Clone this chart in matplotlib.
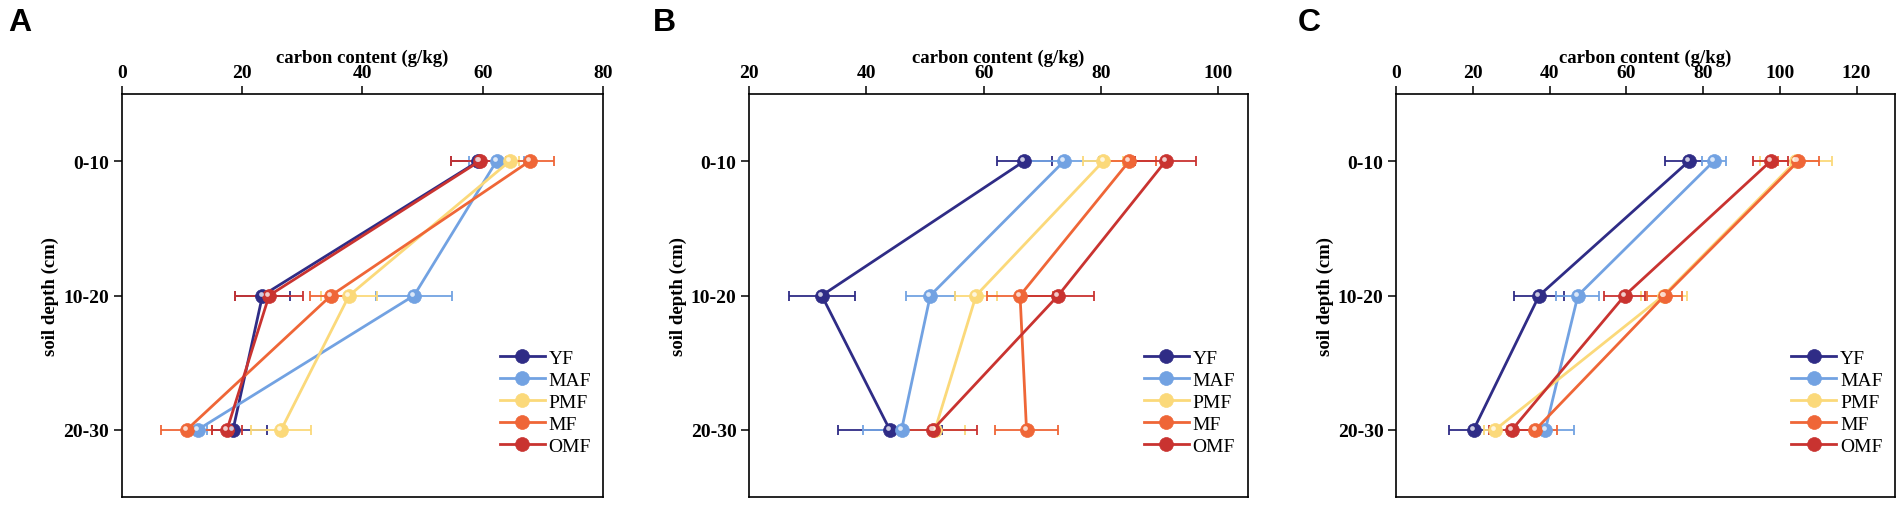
import matplotlib
matplotlib.use("Agg")
import matplotlib.pyplot as plt
from matplotlib.transforms import ScaledTranslation
import numpy as np

depths = ['0-10', '10-20', '20-30']
series = ['YF', 'MAF', 'PMF', 'MF', 'OMF']
colors = ['#2f2c86', '#72a2e2', '#fbd97a', '#ef6637', '#c93330']

# Panel A
A_YF = [59.3, 23.4, 18.5]
A_MAF = [62.3, 48.6, 12.6]
A_PMF = [64.5, 37.8, 26.5]
A_MF = [67.8, 34.8, 10.8]
A_OMF = [59.5, 24.5, 17.5]
A_YF_err = [4.6, 4.6, 5.6]
A_MAF_err = [4.6, 6.3, 1.5]
A_PMF_err = [1.5, 4.6, 5.0]
A_MF_err = [4.0, 3.5, 4.2]
A_OMF_err = [4.8, 5.6, 2.5]

# Panel B
B_YF = [66.9, 32.4, 44.0]
B_MAF = [73.7, 50.9, 46.0]
B_PMF = [80.4, 58.7, 51.7]
B_MF = [84.8, 66.2, 67.3]
B_OMF = [91.0, 72.7, 51.3]
B_YF_err = [4.7, 5.6, 8.9]
B_MAF_err = [6.0, 4.2, 6.5]
B_PMF_err = [3.4, 3.6, 5.1]
B_MF_err = [4.6, 5.6, 5.3]
B_OMF_err = [5.2, 6.1, 7.5]

# Panel C
C_YF = [76.3, 37.3, 20.2]
C_MAF = [82.8, 47.4, 38.9]
C_PMF = [104.2, 69.7, 25.8]
C_MF = [104.8, 70.0, 36.3]
C_OMF = [97.6, 59.6, 30.2]
C_YF_err = [6.1, 6.5, 6.5]
C_MAF_err = [3.2, 5.6, 7.4]
C_PMF_err = [9.4, 6.0, 3.0]
C_MF_err = [5.4, 4.5, 5.6]
C_OMF_err = [4.5, 5.3, 6.1]

A_ticks = [0, 20, 40, 60, 80]
B_ticks = [20, 40, 60, 80, 100]
C_ticks = [0, 20, 40, 60, 80, 100, 120]

panels = [
    ('A', [A_YF, A_MAF, A_PMF, A_MF, A_OMF], [A_YF_err, A_MAF_err, A_PMF_err, A_MF_err, A_OMF_err], (0, 80), A_ticks),
    ('B', [B_YF, B_MAF, B_PMF, B_MF, B_OMF], [B_YF_err, B_MAF_err, B_PMF_err, B_MF_err, B_OMF_err], (20, 105), B_ticks),
    ('C', [C_YF, C_MAF, C_PMF, C_MF, C_OMF], [C_YF_err, C_MAF_err, C_PMF_err, C_MF_err, C_OMF_err], (0, 130), C_ticks),
]

W, H = 1902, 506
fig = plt.figure(figsize=(W / 100, H / 100), dpi=100)
serif = ['Liberation Serif', 'DejaVu Serif']

axes_px = [(121.7, 603.0), (749.0, 1247.7), (1396.0, 1895.0)]
top_px, bot_px = 95, 498
letter_x = [8, 653, 1298]

ypos = np.arange(1, len(depths) + 1)

def lighten(c, f=0.6):
    import matplotlib.colors as mc
    r, g, b = mc.to_rgb(c)
    return (r + (1 - r) * f, g + (1 - g) * f, b + (1 - b) * f)

for (letter, means, errs, xlim, ticks), (x0, x1), lx in zip(panels, axes_px, letter_x):
    ax = fig.add_axes([x0 / W, 1 - bot_px / H, (x1 - x0) / W, (bot_px - top_px) / H])
    hl_tr = ax.transData + ScaledTranslation(-1.8 / 100, 1.8 / 100, fig.dpi_scale_trans)
    handles = []
    for name, m, e, c in zip(series, means, errs, colors):
        ax.errorbar(m, ypos, xerr=e, fmt='none', ecolor=c, elinewidth=1.3,
                    capsize=3.5, capthick=1.3, zorder=2)
        ln, = ax.plot(m, ypos, '-o', color=c, lw=2.0, ms=10, mec=c, mew=0.5,
                      zorder=3, label=name)
        ax.plot(m, ypos, 'o', color=lighten(c, 0.75), ms=3.4, mew=0,
                transform=hl_tr, zorder=4)
        handles.append(ln)
    ax.set_xlim(*xlim)
    ax.set_ylim(3.5, 0.5)
    ax.set_yticks(ypos)
    ax.set_yticklabels(depths, fontfamily=serif, fontweight='bold', fontsize=14)
    ax.set_xticks(ticks)
    ax.set_xticklabels([str(t) for t in ticks], fontfamily=serif, fontweight='bold', fontsize=14)
    ax.xaxis.tick_top()
    ax.xaxis.set_label_position('top')
    ax.tick_params(axis='both', direction='out', length=6, width=1.1, pad=3)
    ax.set_xlabel('carbon content (g/kg)', fontfamily=serif, fontweight='bold', fontsize=13.5, labelpad=2)
    ax.set_ylabel('soil depth (cm)', fontfamily=serif, fontweight='bold', fontsize=13.5, labelpad=3)
    for s in ax.spines.values():
        s.set_linewidth(1.2)
    ax.legend(handles=handles, loc='lower right', bbox_to_anchor=(0.975, 0.105),
              frameon=False, borderpad=0, prop={'family': serif, 'size': 14},
              handlelength=2.3, handletextpad=0.2, labelspacing=0.22, borderaxespad=0)
    fig.text(lx / W, 1 - 8 / H, letter, fontfamily=['Liberation Sans', 'DejaVu Sans'],
             fontweight='bold', fontsize=23, ha='left', va='top')

fig.savefig('out.png', dpi=100)
